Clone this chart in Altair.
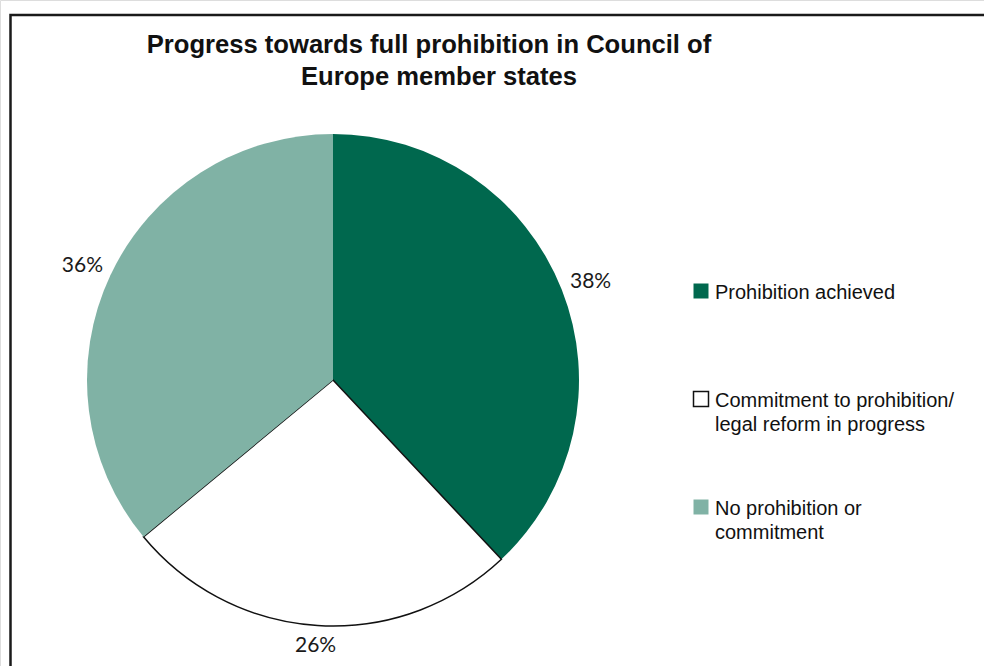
import altair as alt
import pandas as pd

categories = ["Prohibition achieved", "Commitment to prohibition/legal reform in progress", "No prohibition or commitment"]
shares = [38, 26, 36]
colors = ["#00684E", "#FFFFFF", "#80B2A5"]
legend_lines = [["Prohibition achieved"],
                ["Commitment to prohibition/", "legal reform in progress"],
                ["No prohibition or", "commitment"]]
title_lines = ["Progress towards full prohibition in Council of", "Europe member states"]

df = pd.DataFrame({
    "cat": categories,
    "value": shares,
    "idx": list(range(len(categories))),
    "label": [f"{v}%" for v in shares],
    "lines": legend_lines,
})

W, H = 984, 666
CX, CY, R = 333, 380, 246
LAB_RX, LAB_RY = 277, 267          # elliptical label placement (Excel-like)
LEG_Y0, LEG_STEP = 291, 108        # legend layout

color_scale = alt.Scale(domain=categories, range=colors)
outlined = alt.datum.cat == categories[1]
sw = alt.condition(outlined, alt.value(1.5), alt.value(0))

frame = alt.Chart(pd.DataFrame({"a": [0]})).mark_rect(
    filled=False, stroke="#1a1a1a", strokeWidth=2.5
).encode(x=alt.value(10.5), y=alt.value(15), x2=alt.value(1200), y2=alt.value(900))

arcs = alt.Chart(df).mark_arc(outerRadius=R, stroke="#111111").encode(
    theta=alt.Theta("value:Q", stack=True),
    order=alt.Order("idx:Q"),
    color=alt.Color("cat:N", scale=color_scale, legend=None),
    strokeWidth=sw,
    x=alt.value(CX), y=alt.value(CY),
)

pct = alt.Chart(df).transform_joinaggregate(
    total="sum(value)"
).transform_window(
    cum="sum(value)", sort=[alt.SortField("idx")]
).transform_calculate(
    mid=f"2*PI*(datum.cum - datum.value/2)/datum.total"
).transform_calculate(
    lx=f"{CX} + {LAB_RX}*sin(datum.mid)",
    ly=f"{CY} - {LAB_RY}*cos(datum.mid)",
).mark_text(font="Lato", fontSize=21, color="#1a1a1a", align="center", baseline="middle").encode(
    x=alt.X("lx:Q", scale=None, axis=None),
    y=alt.Y("ly:Q", scale=None, axis=None),
    text="label:N",
)

title_style = dict(font="Liberation Sans", fontSize=25.6, fontWeight="bold", color="#111111",
                   align="center", baseline="alphabetic")
title1 = alt.Chart(pd.DataFrame({"a": [0]})).mark_text(**title_style).encode(
    x=alt.value(429), y=alt.value(53), text=alt.value(title_lines[0]))
title2 = alt.Chart(pd.DataFrame({"a": [0]})).mark_text(**title_style).encode(
    x=alt.value(439), y=alt.value(85), text=alt.value(title_lines[1]))

legend_base = alt.Chart(df).transform_calculate(
    legy=f"{LEG_Y0} + datum.idx*{LEG_STEP}"
)

squares = legend_base.mark_square(size=225, stroke="#111111", opacity=1).encode(
    y=alt.Y("legy:Q", scale=None, axis=None), x=alt.value(701),
    color=alt.Color("cat:N", scale=color_scale, legend=None),
    strokeWidth=sw,
)

legend_text = legend_base.mark_text(
    font="Liberation Sans", fontSize=20, color="#111111", align="left",
    baseline="alphabetic", dy=8, lineHeight=24,
).encode(y=alt.Y("legy:Q", scale=None, axis=None), x=alt.value(715), text="lines:N")

chart = alt.layer(frame, arcs, pct, title1, title2, squares, legend_text).properties(
    width=W, height=H, padding=0, autosize=alt.AutoSizeParams(type="none")
).configure_view(stroke=None).configure(background="white")

chart.save("out.html", embed_options={"renderer": "svg", "actions": False})
